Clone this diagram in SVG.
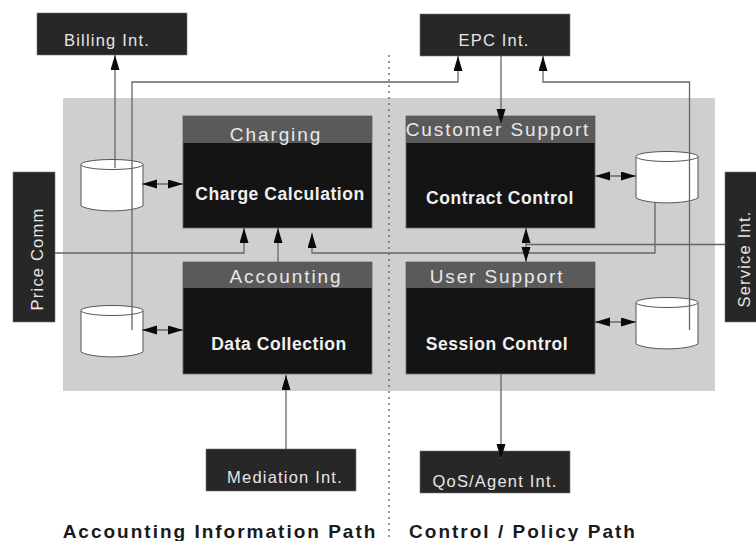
<svg xmlns="http://www.w3.org/2000/svg" width="756" height="541" viewBox="0 0 756 541">
<style>
text{font-family:"Liberation Sans",Arial,sans-serif;text-anchor:middle}
.ext{fill:#272727;stroke:#777;stroke-width:.6}
.body{fill:#141414;stroke:#666;stroke-width:.8}
.head{fill:#5a5a5a}
.t{fill:#e6e6e6;font-size:16.500px;letter-spacing:1.2px}
.h{fill:#e8e8e8;font-size:19px;letter-spacing:1.9px}
.b{fill:#f0f0f0;font-size:17.500px;font-weight:bold;letter-spacing:.55px}
.p{fill:#1a1a1a;font-size:19px;font-weight:bold;letter-spacing:2px}
.c{fill:none;stroke:#666;stroke-width:1.3}
.cy{fill:#fff;stroke:#555;stroke-width:1}
</style>
<defs>
<marker id="a" markerUnits="userSpaceOnUse" markerWidth="16" markerHeight="10" refX="15" refY="4.500" orient="auto-start-reverse"><path d="M0 0L15 4.500L0 9Z" fill="#0a0a0a"/></marker>
<g id="cyl"><path class="cy" d="M0 5.500V47C12 53.500 50 53.500 62 47V5.500Z"/><ellipse class="cy" cx="31" cy="5.500" rx="31" ry="5"/></g>
</defs>
<rect id="panel" x="63" y="98" width="652" height="293" fill="#cfcfcf"/>
<line x1="389" y1="55" x2="389" y2="541" stroke="#555" stroke-width="1.2" stroke-dasharray="2 4"/>
<g id="store-charging"><use href="#cyl" x="81" y="159"/></g>
<g id="store-accounting"><use href="#cyl" x="81" y="305"/></g>
<g id="store-customer"><use href="#cyl" x="636" y="151"/></g>
<g id="store-user"><use href="#cyl" x="636" y="297"/></g>
<g id="billing"><rect class="ext" x="37" y="13" width="150" height="42"/><text class="t" x="107" y="46">Billing Int.</text></g>
<g id="epc"><rect class="ext" x="420" y="14" width="150" height="42"/><text class="t" x="494" y="46">EPC Int.</text></g>
<g id="mediation"><rect class="ext" x="206" y="449" width="150" height="42"/><text class="t" x="285" y="483">Mediation Int.</text></g>
<g id="qos"><rect class="ext" x="420" y="451" width="150" height="42"/><text class="t" x="495" y="487">QoS/Agent Int.</text></g>
<g id="price"><rect class="ext" x="13" y="172" width="42" height="150"/><text class="t" transform="translate(43 259) rotate(-90)">Price Comm</text></g>
<g id="service"><rect class="ext" x="725" y="172" width="42" height="150"/><text class="t" transform="translate(750 259) rotate(-90)">Service Int.</text></g>
<g id="charging"><rect class="body" x="183" y="116" width="189" height="112"/><rect class="head" x="183" y="116" width="189" height="27"/><text class="h" x="276" y="141">Charging</text><text class="b" x="280" y="200">Charge Calculation</text></g>
<g id="customer"><rect class="body" x="406" y="116" width="189" height="112"/><rect class="head" x="406" y="116" width="189" height="27"/><text class="h" x="498" y="136">Customer Support</text><text class="b" x="500" y="204">Contract Control</text></g>
<g id="accounting"><rect class="body" x="183" y="262" width="189" height="112"/><rect class="head" x="183" y="262" width="189" height="26"/><text class="h" x="286" y="283">Accounting</text><text class="b" x="279" y="350">Data Collection</text></g>
<g id="user"><rect class="body" x="406" y="262" width="189" height="112"/><rect class="head" x="406" y="262" width="189" height="26"/><text class="h" x="497" y="283">User Support</text><text class="b" x="497" y="350">Session Control</text></g>
<g id="connectors">
<path class="c" d="M115 168V55" marker-end="url(#a)"/>
<path class="c" d="M132 330V82H458V56" marker-end="url(#a)"/>
<path class="c" d="M501 56V124" marker-end="url(#a)"/>
<path class="c" d="M689.500 330V82H543V56" marker-end="url(#a)"/>
<path class="c" d="M55 253H244V228" marker-end="url(#a)"/>
<path class="c" d="M278 262V228" marker-end="url(#a)"/>
<path class="c" d="M655 202V253H312V233" marker-end="url(#a)"/>
<path class="c" d="M725 244.500H526"/>
<path class="c" d="M526 228V262" marker-start="url(#a)" marker-end="url(#a)"/>
<path class="c" d="M142 184H183" marker-start="url(#a)" marker-end="url(#a)"/>
<path class="c" d="M142 330H183" marker-start="url(#a)" marker-end="url(#a)"/>
<path class="c" d="M595 176H636" marker-start="url(#a)" marker-end="url(#a)"/>
<path class="c" d="M595 322H636" marker-start="url(#a)" marker-end="url(#a)"/>
<path class="c" d="M286 449V375" marker-end="url(#a)"/>
<path class="c" d="M501 374V459" marker-end="url(#a)"/>
</g>
<text class="p" x="220" y="538">Accounting Information Path</text>
<text class="p" x="523" y="538">Control / Policy Path</text>
</svg>
